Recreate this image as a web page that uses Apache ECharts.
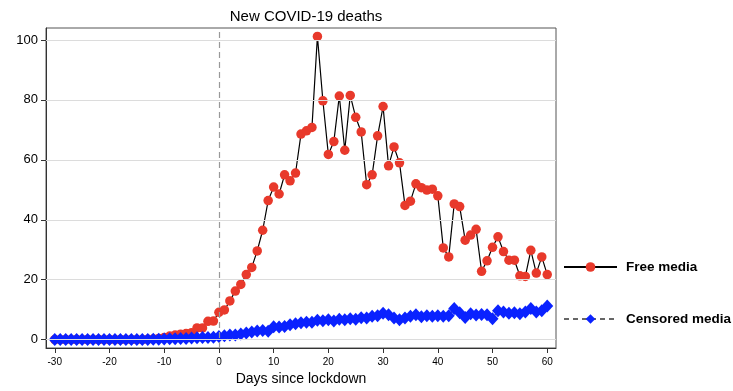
<!DOCTYPE html>
<html><head><meta charset="utf-8">
<script src="https://cdn.jsdelivr.net/npm/echarts@6/dist/echarts.min.js"></script>
<style>html,body{margin:0;padding:0;background:#fff}#c{width:733px;height:391px}</style>
</head><body><div id="c"></div>
<script>
const days = [-30,-29,-28,-27,-26,-25,-24,-23,-22,-21,-20,-19,-18,-17,-16,-15,-14,-13,-12,-11,
  -10,-9,-8,-7,-6,-5,-4,-3,-2,-1,0,1,2,3,4,5,6,7,8,9,10,11,12,13,14,15,16,17,18,19,20,
  21,22,23,24,25,26,27,28,29,30,31,32,33,34,35,36,37,38,39,40,41,42,43,44,45,46,47,48,49,50,
  51,52,53,54,55,56,57,58,59,60];
const freeMedia = [0,0,0,0,0,0,0,0,0,0,0,0,0,0,0,0,0,0.1,0.2,0.4,
  0.7,1.2,1.5,1.8,2.0,2.3,3.9,3.9,6.1,6.2,
  9.1,9.9,12.9,16.2,18.4,21.7,24.1,29.6,36.5,46.4,
  50.9,48.6,55.0,53.0,55.6,68.6,69.7,70.8,101.2,79.7,
  61.8,66.1,81.3,63.2,81.5,74.2,69.3,51.7,55.0,68.0,
  77.8,58.0,64.3,59.0,44.8,46.2,52.0,50.7,49.9,50.2,
  48.0,30.6,27.6,45.3,44.4,33.2,34.9,36.8,22.8,26.3,
  30.8,34.3,29.4,26.5,26.5,21.3,21.1,29.8,22.2,27.6,21.7];
const censoredMedia = [0,0,0,0,0,0,0,0,0,0,0,0,0,0,0,0,0,0,0.1,0.1,
  0.2,0.3,0.3,0.4,0.4,0.5,0.6,0.7,0.7,0.8,
  1.0,1.3,1.5,1.5,1.9,2.2,2.5,2.9,3.0,2.8,
  4.3,4.2,4.4,5.0,5.3,5.6,5.8,5.8,6.5,6.3,
  6.6,6.2,6.8,6.6,7.0,6.8,7.3,7.2,7.8,8.0,
  8.8,8.3,7.2,6.6,7.2,7.8,8.3,7.6,8.0,7.8,
  8.0,7.8,8.0,10.4,9.0,7.4,8.6,8.2,8.4,8.3,
  7.0,9.6,9.2,8.8,9.0,8.6,9.2,10.4,9.2,9.6,11.2];
const xTicks = [-30,-20,-10,0,10,20,30,40,50,60];
const yTicks = [0,20,40,60,80,100];
const lockdownDay = [0];

const chart = echarts.init(document.getElementById('c'), null, {renderer:'canvas'});
const font = 'Liberation Sans, Arial, Helvetica, sans-serif';
chart.setOption({
  animation:false,
  title:{text:'New COVID-19 deaths', left:301, top:4, textAlign:'center',
    textStyle:{fontFamily:font, fontSize:15, fontWeight:'normal', color:'#000'}},
  grid:{left:46, right:177, top:28, bottom:39, show:true, borderColor:'#555', borderWidth:1},
  legend:{orient:'vertical', left:563, top:260, itemWidth:53, itemHeight:12, itemGap:38, padding:0,
    textStyle:{fontFamily:font, fontSize:13.5, fontWeight:'bold', color:'#000', padding:[0,0,0,4]},
    data:['Free media','Censored media']},
  xAxis:{type:'value', min:-31.6, max:61.6,
    name:'Days since lockdown', nameLocation:'middle', nameGap:24,
    nameTextStyle:{fontFamily:font, fontSize:14, color:'#000'},
    axisLine:{onZero:false, lineStyle:{color:'#333'}},
    axisTick:{customValues:xTicks, length:5, lineStyle:{color:'#333'}},
    axisLabel:{customValues:xTicks, fontFamily:font, fontSize:10, color:'#000', margin:9},
    splitLine:{show:false}},
  yAxis:{type:'value', min:-2.8, max:104,
    axisLine:{show:true, onZero:false, lineStyle:{color:'#333'}},
    axisTick:{show:true, customValues:yTicks, length:5, lineStyle:{color:'#333'}},
    axisLabel:{customValues:yTicks, fontFamily:font, fontSize:13, color:'#000', margin:8},
    splitLine:{show:false}},
  series:[
    {type:'line', name:'gridlines', data:[], silent:true, z:1,
      markLine:{silent:true, symbol:'none', label:{show:false},
        lineStyle:{color:'#dcdcdc', type:'solid', width:1},
        data: yTicks.map(v=>({yAxis:v}))}},
    {type:'line', name:'lockdown', data:[], silent:true, z:1,
      markLine:{silent:true, symbol:'none', label:{show:false},
        lineStyle:{color:'#999', type:[6,4], width:1.2},
        data: lockdownDay.map(v=>({xAxis:v}))}},
    {type:'line', name:'Free media', z:3,
      data: days.map((d,i)=>[d, freeMedia[i]]),
      symbol:'circle', symbolSize:9.5, showSymbol:true,
      itemStyle:{color:'#e8392b'},
      lineStyle:{color:'#000', width:1.2}},
    {type:'line', name:'Censored media', z:4,
      data: days.map((d,i)=>[d, censoredMedia[i]]),
      symbol:'diamond', symbolSize:[12,13], showSymbol:true,
      itemStyle:{color:'#0a22ff'},
      lineStyle:{color:'#666', width:1.2, type:[5,4]}}
  ]
});
</script></body></html>
